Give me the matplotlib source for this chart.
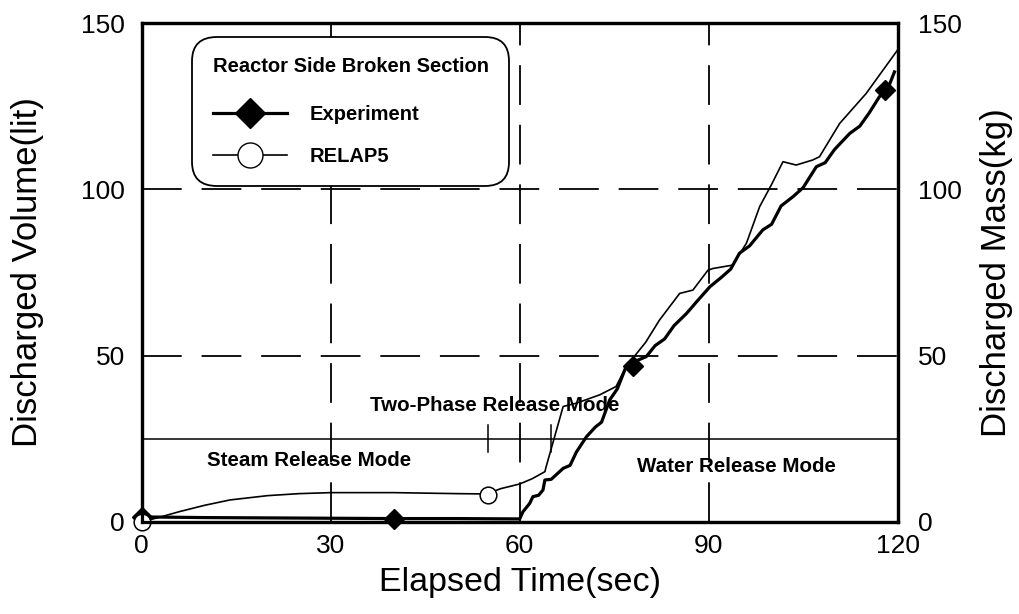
import matplotlib
matplotlib.use("Agg")
import matplotlib.pyplot as plt

# 实验数据 (Experiment)
exp_t = [0, 10, 20, 30, 40, 50, 59.5, 60, 60.5, 61.6, 62.1, 63.0, 63.7, 64.0, 65.0, 66.9,
         68.0, 69.0, 70.6, 72.0, 73.0, 74.3, 75.5, 76.9, 78.0, 80.1, 81.5, 83.0, 84.5,
         86.5, 88.0, 90.2, 92.0, 93.5, 94.9, 96.5, 98.6, 100.0, 101.5, 103.4, 105.0,
         107.1, 108.5, 110.0, 112.4, 114.0, 115.5, 117.1, 118.5, 119.5]
exp_v = [1.5, 1.3, 1.2, 1.1, 1.0, 1.0, 0.9, 0.9, 3.0, 5.6, 7.6, 8.0, 9.6, 12.6, 12.8, 16.1,
         17.0, 21.0, 25.6, 28.5, 30.0, 36.7, 40.0, 46.7, 48.0, 49.7, 53.0, 55.0, 59.0,
         62.7, 66.0, 70.7, 73.5, 76.0, 80.8, 83.0, 87.8, 89.5, 95.0, 97.8, 100.5,
         106.8, 108.0, 112.0, 116.8, 119.0, 123.0, 127.8, 130.5, 135.3]
exp_mark_t = [0, 40, 78, 118]
exp_mark_v = [1.5, 1.0, 47, 129.8]

# RELAP5 计算结果
rel_t = [0, 3, 6, 10, 14, 20, 25, 30, 40, 50, 54.7, 57, 60, 62, 64, 64.2, 66.9, 69.0,
         72.7, 75.3, 76.9, 80.0, 82.2, 85.4, 87.5, 89.9, 90.7, 93.8, 96.0, 98.1, 100.0,
         101.8, 103.9, 106.5, 107.6, 110.8, 115.0, 120.0]
rel_v = [0, 1.5, 3.1, 5.0, 6.6, 7.9, 8.5, 8.8, 8.8, 8.5, 8.4, 10.0, 11.4, 13.0, 15.1, 16.6,
         34.7, 35.7, 38.2, 40.7, 46.7, 54.0, 60.7, 68.7, 69.7, 75.7, 76.2, 77.2, 83.8,
         94.8, 101.5, 108.3, 107.3, 108.8, 109.8, 119.8, 128.8, 141.9]
rel_mark_t = [0, 55]
rel_mark_v = [0, 8.2]

mode_line = 25
mode_bounds = [55, 65]

font = ['Liberation Sans', 'DejaVu Sans']
plt.rcParams['font.family'] = font

fig = plt.figure(figsize=(10.2, 6.14), dpi=100)
ax = fig.add_axes([0.139, 0.150, 0.741, 0.8125])

ax.set_xlim(0, 120)
ax.set_ylim(0, 150)
ax.set_xticks([0, 30, 60, 90, 120])
ax.set_yticks([0, 50, 100, 150])
dash = (0, (22, 11))
for v in [30, 60, 90]:
    ax.axvline(v, color='black', lw=1.3, ls=dash, zorder=1)
for v in [50, 100]:
    ax.axhline(v, color='black', lw=1.3, ls=dash, zorder=1)
ax.axhline(mode_line, color='black', lw=1.1, zorder=1)
for b in mode_bounds:
    ax.plot([b, b], [mode_line - 4, mode_line + 4], color='black', lw=1.1)

ax.plot(exp_t, exp_v, color='black', lw=2.3, zorder=3)
ax.plot(exp_mark_t, exp_mark_v, ls='none', marker='D', ms=10, color='black', zorder=4, clip_on=False)
ax.plot(rel_t, rel_v, color='black', lw=1.2, zorder=3)
ax.plot(rel_mark_t, rel_mark_v, ls='none', marker='o', ms=12, mfc='white', mec='black',
        mew=1.1, zorder=4, clip_on=False)

txt_kw = dict(fontsize=14.8, fontweight='bold', ha='left', va='center')
ax.text(36.2, 35, 'Two-Phase Release Mode', **txt_kw)
ax.text(10.3, 18.6, 'Steam Release Mode', **txt_kw)
ax.text(78.7, 16.6, 'Water Release Mode', **txt_kw)

for s in ax.spines.values():
    s.set_linewidth(2.3)
ax.tick_params(axis='both', length=0, labelsize=19)
ax.tick_params(axis='y', pad=12)
ax.tick_params(axis='x', pad=9)

ax2 = ax.twinx()
ax2.set_ylim(0, 150)
ax2.set_yticks([0, 50, 100, 150])
ax2.tick_params(axis='y', length=0, pad=15, labelsize=19)
for s in ax2.spines.values():
    s.set_linewidth(2.3)

ax.set_xlabel('Elapsed Time(sec)', fontsize=24.5, labelpad=6)
ax.set_ylabel('Discharged Volume(lit)', fontsize=25, labelpad=27)
ax2.set_ylabel('Discharged Mass(kg)', fontsize=25, labelpad=13)

# 图例
h1, = ax.plot([], [], color='black', lw=2.3, marker='D', ms=15, label='Experiment')
h2, = ax.plot([], [], color='black', lw=1.2, marker='o', ms=18, mfc='white', label='RELAP5')
leg = ax.legend(handles=[h1, h2], loc='upper left', bbox_to_anchor=(0.067, 0.972),
                title='Reactor Side Broken Section', frameon=True, fancybox=True,
                edgecolor='black', framealpha=1, handlelength=3.7, borderpad=1.0,
                labelspacing=1.12, handletextpad=1.1, borderaxespad=0, alignment='left',
                prop={'size': 14.5, 'weight': 'bold'},
                title_fontproperties={'size': 14.5, 'weight': 'bold'})
leg.get_frame().set_linewidth(1.3)
leg.get_frame().set_boxstyle('round', pad=0, rounding_size=1.2)
leg._legend_box.sep = 21

fig.savefig('out.png', dpi=100)
